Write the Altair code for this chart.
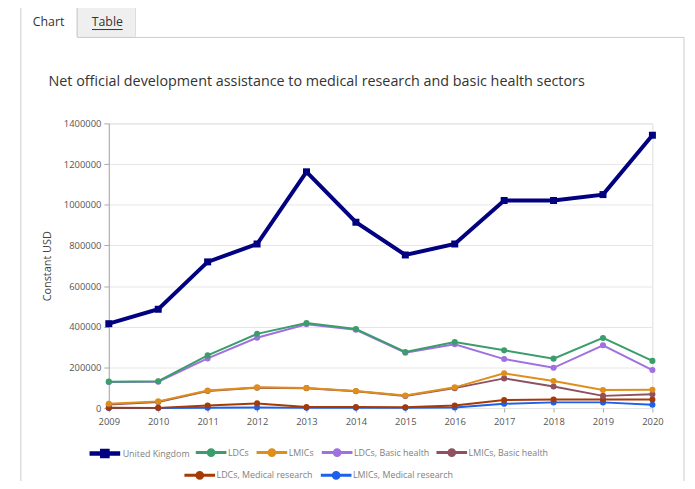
import altair as alt
import pandas as pd

years = list(range(2009, 2021))
uk = [415000, 486000, 719000, 807000, 1162000, 914000, 753000, 807000, 1021000, 1021000, 1050000, 1342000]
ldcs = [130000, 132000, 259000, 365000, 418000, 389000, 276000, 325000, 284000, 243000, 345000, 232000]
lmics = [21000, 33000, 86000, 102000, 99000, 84000, 62000, 102000, 171000, 133000, 89000, 90000]
ldcs_bh = [128000, 130000, 244000, 346000, 412000, 385000, 272000, 314000, 241000, 198000, 309000, 187000]
lmics_bh = [18000, 30000, 84000, 100000, 98000, 83000, 59000, 98000, 146000, 106000, 60000, 68000]
ldcs_mr = [2000, 1000, 13000, 23000, 5000, 5000, 4000, 13000, 40000, 42000, 42000, 42000]
lmics_mr = [0, 0, 2000, 3000, 1000, 1000, 1000, 3000, 21000, 28000, 28000, 16000]

y_ticks = [0, 200000, 400000, 600000, 800000, 1000000, 1200000, 1400000]

series_names = ["United Kingdom", "LDCs", "LMICs", "LDCs, Basic health", "LMICs, Basic health",
                "LDCs, Medical research", "LMICs, Medical research"]
series_values = [uk, ldcs, lmics, ldcs_bh, lmics_bh, ldcs_mr, lmics_mr]
series_colors = ["#000080", "#3a9d6b", "#e08e1b", "#a06fe0", "#8f5160", "#a63a06", "#1c60ec"]

title_text = "Net official development assistance to medical research and basic health sectors"

FONT = "Open Sans"
CIRCLE_PATH = "M-1,0L1,0M-0.19,0A0.19,0.19,0,1,1,0.19,0A0.19,0.19,0,1,1,-0.19,0Z"
SQUARE_PATH = "M-1,0L1,0M-0.17,-0.17L0.17,-0.17L0.17,0.17L-0.17,0.17Z"

# legend placement (layout only): left edge of each legend entry, row top
legend_pos = [(-22, 316), (86.5, 316), (148, 316), (214, 316), (330, 316),
              (75, 339), (213, 339)]

x_enc = alt.X("year:Q", scale=alt.Scale(domain=[2009, 2020], nice=False, zero=False),
              axis=alt.Axis(values=years, format="d", title=None, grid=False, domain=False,
                            tickSize=4, tickColor="#aaa", labelPadding=5, labelFontSize=9.5,
                            labelColor="#555", labelFont=FONT, labelFlush=False))
y_enc = alt.Y("value:Q", scale=alt.Scale(domain=[0, 1400000], nice=False),
              axis=alt.Axis(values=y_ticks, format="d", title="Constant USD", grid=True,
                            gridColor="#e6e6e6", domain=True, domainColor="#aaa",
                            tickSize=5, tickColor="#aaa", labelPadding=3, labelFontSize=9.5,
                            labelColor="#555", labelFont=FONT, labelFlush=False, titleFont=FONT,
                            titleFontSize=11, titleFontWeight="normal", titleColor="#444",
                            titleX=-62, titleY=144, titleAngle=270, titleBaseline="middle"))


def series_layer(i):
    name = series_names[i]
    df = pd.DataFrame({"year": years, "series": name, "value": series_values[i]})
    is_uk = i == 0
    lx, ly = legend_pos[i]
    legend = alt.Legend(title=None, orient="none", legendX=lx, legendY=ly, direction="horizontal",
                        symbolType=SQUARE_PATH if is_uk else CIRCLE_PATH, symbolSize=961,
                        symbolStrokeWidth=4.5 if is_uk else 3,
                        labelFontSize=9, labelColor="#808080", labelFont=FONT, padding=0,
                        labelOffset=0, symbolOpacity=1)
    base = alt.Chart(df).encode(
        x=x_enc, y=y_enc,
        color=alt.Color("series:N", scale=alt.Scale(domain=[name], range=[series_colors[i]]),
                        legend=legend),
    )
    line = base.mark_line(strokeWidth=4 if is_uk else 2)
    pts = base.mark_point(shape="square" if is_uk else "circle", filled=True,
                          size=50 if is_uk else 38, opacity=1)
    return alt.layer(line, pts)


one = alt.Data(values=[{"a": 1}])
FR = "#cccccc"
deco = [
    alt.Chart(one).mark_rect(fill="#efefef", stroke="#dddddd", cornerRadius=2).encode(
        x=alt.value(-32), x2=alt.value(27), y=alt.value(-119), y2=alt.value(-87)),
    alt.Chart(one).mark_rule(color=FR).encode(x=alt.value(-89), y=alt.value(-120), y2=alt.value(400)),
    alt.Chart(one).mark_rule(color=FR).encode(x=alt.value(582), y=alt.value(-87), y2=alt.value(400)),
    alt.Chart(one).mark_rule(color=FR).encode(x=alt.value(-32), x2=alt.value(582), y=alt.value(-87)),
    alt.Chart(one).mark_rule(color=FR).encode(x=alt.value(-89), x2=alt.value(-32), y=alt.value(-120)),
    alt.Chart(one).mark_rule(color=FR).encode(x=alt.value(-32), y=alt.value(-120), y2=alt.value(-87)),
    alt.Chart(one).mark_text(text="Chart", font=FONT, fontSize=12.5, color="#333", align="center",
                             baseline="middle").encode(x=alt.value(-61), y=alt.value(-103)),
    alt.Chart(one).mark_text(text="Table", font=FONT, fontSize=12.5, color="#333", align="center",
                             baseline="middle").encode(x=alt.value(-1.5), y=alt.value(-103)),
    alt.Chart(one).mark_rule(color="#333").encode(x=alt.value(-17), x2=alt.value(14), y=alt.value(-95)),
    alt.Chart(one).mark_text(text=title_text, font=FONT, fontSize=14.5, color="#333", align="left",
                             baseline="middle").encode(x=alt.value(-61), y=alt.value(-42)),
]

layers = [series_layer(i) for i in reversed(range(len(series_names)))]

chart = alt.layer(*deco, *layers).resolve_scale(color="independent").properties(
    width=550, height=288,
    padding={"left": 102, "top": 114, "right": 35, "bottom": 71},
    autosize=alt.AutoSizeParams(type="none"),
).configure_view(stroke=None).configure(font=FONT)

chart.save("out.html", embed_options={"renderer": "svg", "actions": False})
